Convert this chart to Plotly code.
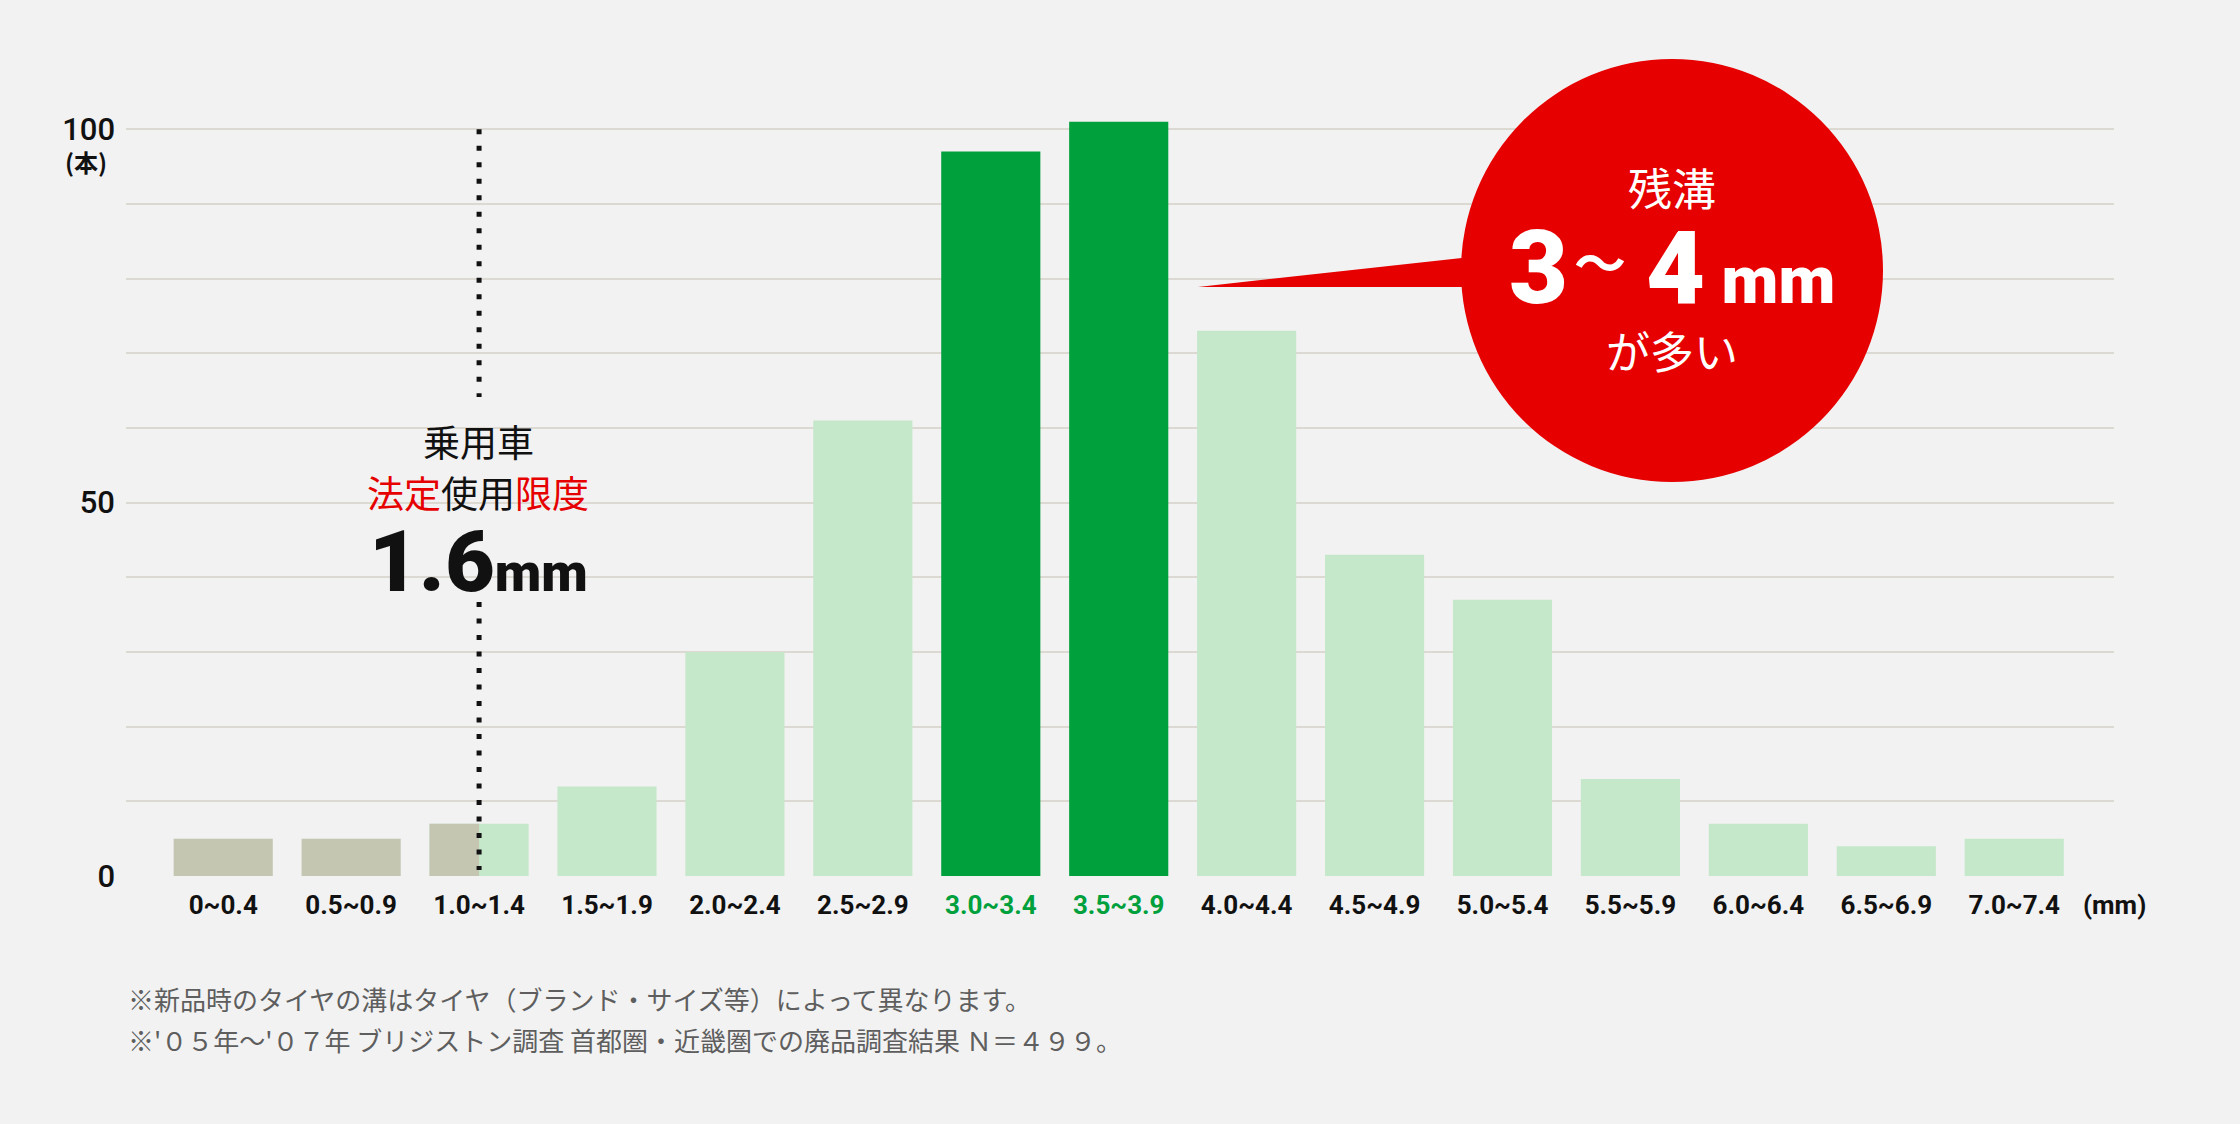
import plotly.graph_objects as go

# tread depth classes (mm) and number of tyres found in each
categories = ['0~0.4', '0.5~0.9', '1.0~1.4', '1.5~1.9', '2.0~2.4', '2.5~2.9',
              '3.0~3.4', '3.5~3.9', '4.0~4.4', '4.5~4.9', '5.0~5.4', '5.5~5.9',
              '6.0~6.4', '6.5~6.9', '7.0~7.4']
lower_mm = [0.0, 0.5, 1.0, 1.5, 2.0, 2.5, 3.0, 3.5, 4.0, 4.5, 5.0, 5.5, 6.0, 6.5, 7.0]
counts = [5, 5, 7, 12, 30, 61, 97, 101, 73, 43, 37, 13, 7, 4, 5]

y_ticks = [0, 10, 20, 30, 40, 50, 60, 70, 80, 90, 100]
y_ticktext = ['0', '', '', '', '', '50', '', '', '', '', '100']

legal_limit_class = '1.0~1.4'
notes = [
    '※新品時のタイヤの溝はタイヤ（ブランド・サイズ等）によって異なります。',
    "※'０５年～'０７年 ブリジストン調査 首都圏・近畿圏での廃品調査結果 Ｎ＝４９９。",
]

GREY = '#c4c6b2'
LIGHT = '#c5e8ca'
DARK = '#00a03c'
RED = '#e60000'
BG = '#f2f2f2'
GRID = '#dcd9d3'
INK = '#111111'
JP = 'Noto Sans CJK JP'
NUM = 'Roboto'

W, H = 2240, 1124
ML, MR, MT, MB = 126, 126, 47, 248
XR = [-0.76, 14.78]
YR = [0, 111]
BAR_W = 0.775


def px_x(px):
    return XR[0] + (px - ML) / (W - ML - MR) * (XR[1] - XR[0])


def px_y(py):
    return YR[1] - (py - MT) / (H - MT - MB) * (YR[1] - YR[0])


def paper_x(px):
    return (px - ML) / (W - ML - MR)


def paper_y(py):
    return 1 - (py - MT) / (H - MT - MB)


def bar_color(low):
    if low < 1.0:
        return GREY
    if 3.0 <= low < 4.0:
        return DARK
    return LIGHT


idx = list(range(len(categories)))
colors = [bar_color(v) for v in lower_mm]
tick_labels = [f'<span style="color:{DARK}">{c}</span>' if bar_color(v) == DARK else c
               for c, v in zip(categories, lower_mm)]
lim = categories.index(legal_limit_class)

fig = go.Figure()
fig.add_trace(go.Bar(x=idx, y=counts, width=BAR_W, marker_color=colors,
                     marker_line_width=0, hoverinfo='x+y'))
# left half of the 1.0~1.4 bar is below the legal limit -> grey
fig.add_trace(go.Bar(x=[lim], y=[counts[lim]], width=[BAR_W / 2], offset=[-BAR_W / 2],
                     marker_color=GREY, marker_line_width=0, hoverinfo='skip'))

# dotted legal-limit line
dot = dict(color=INK, width=5, dash='5px,11.5px')
fig.add_shape(type='line', x0=lim, x1=lim, y0=100, y1=px_y(397), line=dot)
fig.add_shape(type='line', x0=lim, x1=lim, y0=px_y(602), y1=px_y(870), line=dot)

# red callout bubble
fig.add_shape(type='circle', x0=px_x(1461), x1=px_x(1883), y0=px_y(482), y1=px_y(59),
              fillcolor=RED, line_width=0)
fig.add_shape(type='path', fillcolor=RED, line_width=0,
              path=f'M {px_x(1198)} {px_y(287)} L {px_x(1480)} {px_y(256)} '
                   f'L {px_x(1480)} {px_y(287)} Z')

lx = 478  # pixel x of the legal limit label block
ann = [
    dict(x=lx, y=441, text='乗用車', font=dict(family=JP, size=37, color=INK)),
    dict(x=lx, y=492,
         text=f'<span style="color:{RED}">法定</span>使用<span style="color:{RED}">限度</span>',
         font=dict(family=JP, size=37, color=INK)),
    dict(x=lx, y=561, text='1.6<span style="font-size:54px">mm</span>',
         font=dict(family=NUM, size=86, color=INK, weight=900)),
    dict(x=1672, y=187, text='残溝', font=dict(family=JP, size=44, color='white')),
    dict(x=1570, y=268, text='3', xanchor='right',
         font=dict(family=NUM, size=102, color='white', weight=900)),
    dict(x=1600, y=260, text='～', font=dict(family=JP, size=52, color='white', weight=700)),
    dict(x=1644, y=268, text='4<span style="font-size:66px"> mm</span>', xanchor='left',
         font=dict(family=NUM, size=102, color='white', weight=900)),
    dict(x=1672, y=350, text='が多い', font=dict(family=JP, size=44, color='white')),
    dict(x=86, y=161, text='(本)', font=dict(family=JP, size=24, color=INK, weight=700)),
    dict(x=2114, y=905, text='(mm)', font=dict(family=NUM, size=26, color=INK, weight=700)),
]
for i, line in enumerate(notes):
    ann.append(dict(x=126, y=998 + i * 41, text=line, xanchor='left',
                    font=dict(family=JP, size=26, color='#5e5e5e')))
for a in ann:
    a.setdefault('xanchor', 'center')
    a.update(x=paper_x(a['x']), y=paper_y(a['y']), xref='paper', yref='paper',
             yanchor='middle', showarrow=False)

fig.update_layout(
    width=W, height=H,
    margin=dict(l=ML, r=MR, t=MT, b=MB),
    paper_bgcolor=BG, plot_bgcolor=BG,
    barmode='overlay', showlegend=False,
    annotations=ann,
)
fig.update_xaxes(range=XR, tickmode='array', tickvals=idx, ticktext=tick_labels,
                 showgrid=False, zeroline=False, showline=False, ticks='',
                 ticklabelstandoff=11,
                 tickfont=dict(family=NUM, size=26, color=INK, weight=700))
fig.update_yaxes(range=YR, tickmode='array', tickvals=y_ticks, ticktext=y_ticktext,
                 showgrid=True, gridcolor=GRID, gridwidth=2, zeroline=False,
                 showline=False, ticks='', ticklabelstandoff=10,
                 tickfont=dict(family=NUM, size=31, color=INK, weight=500))

fig.write_html('out.html', config={'displayModeBar': False},
               post_script="document.body.style.margin='0';")
